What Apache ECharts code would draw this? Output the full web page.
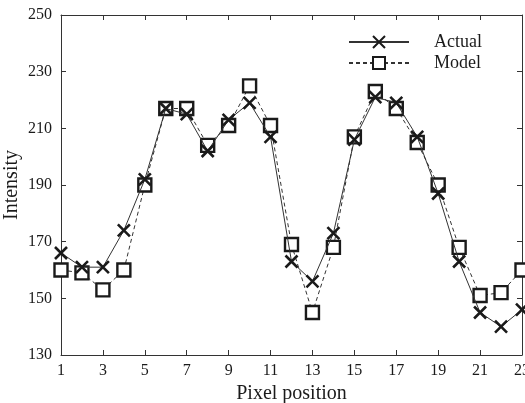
<!DOCTYPE html>
<html>
<head>
<meta charset="utf-8">
<script src="https://cdn.jsdelivr.net/npm/echarts@6/dist/echarts.min.js"></script>
<style>
  html, body { margin: 0; padding: 0; background: #fff; }
  #chart { width: 525px; height: 403px; }
</style>
</head>
<body>
<div id="chart"></div>
<script>
// Pixel positions along the profile
const pixels = ['1','2','3','4','5','6','7','8','9','10','11','12','13','14','15','16','17','18','19','20','21','22','23'];
// Measured intensity
const actual = [166, 161, 161, 174, 192, 217, 215, 202, 213, 219, 207, 163, 156, 173, 206, 221, 219, 207, 187, 163, 145, 140, 146];
// Model prediction
const model = [160, 159, 153, 160, 190, 217, 217, 204, 211, 225, 211, 169, 145, 168, 207, 223, 217, 205, 190, 168, 151, 152, 160];
// Intensity axis range and step
const yMin = 130, yMax = 250, yStep = 20;

const font = '"Liberation Serif", "DejaVu Serif", serif';
const ink = '#1a1a1a';
const crossPath = 'path://M0,0L10,10M10,0L0,10';

const chart = echarts.init(document.getElementById('chart'), null, { renderer: 'canvas' });

const lineCol = '#333';
const tickStyle = { show: true, inside: true, length: 5, lineStyle: { color: lineCol, width: 1 } };
const frame = {
  axisLine: { show: true, lineStyle: { color: lineCol, width: 1 } },
  splitLine: { show: false }
};

chart.setOption({
  animation: false,
  backgroundColor: '#fff',
  grid: { left: 61, top: 15, right: 3, bottom: 48, containLabel: false, outerBoundsMode: 'none' },
  legend: {
    orient: 'vertical',
    left: 343,
    top: 28,
    itemWidth: 60,
    itemHeight: 15,
    itemGap: 3,
    textStyle: { fontFamily: font, fontSize: 18, color: ink, padding: [0, 0, 0, 20] },
    data: ['Actual', 'Model']
  },
  xAxis: [
    Object.assign({
      type: 'category',
      data: pixels,
      boundaryGap: false,
      name: 'Pixel position',
      nameLocation: 'middle',
      nameGap: 25,
      nameTextStyle: { fontFamily: font, fontSize: 20, color: ink },
      axisLabel: { interval: 1, margin: 8, fontFamily: font, fontSize: 16, color: ink },
      axisTick: Object.assign({ interval: 1 }, tickStyle)
    }, frame),
    Object.assign({
      type: 'category',
      data: pixels,
      boundaryGap: false,
      position: 'top',
      axisLabel: { show: false },
      axisTick: Object.assign({ interval: 1 }, tickStyle)
    }, frame)
  ],
  yAxis: [
    Object.assign({
      type: 'value',
      min: yMin, max: yMax, interval: yStep,
      name: 'Intensity',
      nameLocation: 'middle',
      nameGap: 39,
      nameMoveOverlap: false,
      nameTextStyle: { fontFamily: font, fontSize: 20, color: ink },
      axisLabel: { margin: 9, fontFamily: font, fontSize: 16, color: ink },
      axisTick: tickStyle
    }, frame),
    Object.assign({
      type: 'value',
      min: yMin, max: yMax, interval: yStep,
      position: 'right',
      axisLabel: { show: false },
      axisTick: tickStyle
    }, frame)
  ],
  series: [
    {
      name: 'Actual',
      type: 'line',
      data: actual,
      symbol: crossPath,
      symbolSize: 12,
      lineStyle: { color: lineCol, width: 1, type: 'solid' },
      itemStyle: { color: ink, borderColor: ink, borderWidth: 2.6 },
      z: 3
    },
    {
      name: 'Model',
      type: 'line',
      data: model,
      symbol: 'rect',
      symbolSize: 13,
      lineStyle: { color: lineCol, width: 1, type: [4, 3] },
      itemStyle: { color: '#fff', borderColor: ink, borderWidth: 2.4 },
      z: 2
    }
  ]
});
</script>
</body>
</html>
